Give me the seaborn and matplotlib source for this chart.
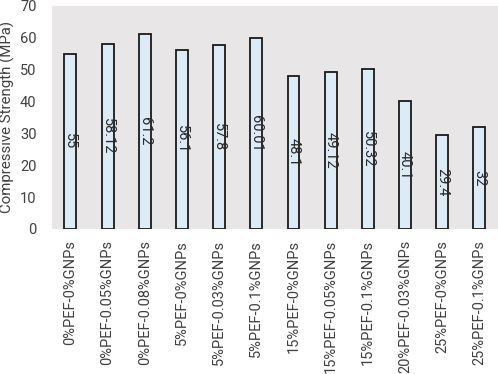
import matplotlib
matplotlib.use('Agg')
import matplotlib.pyplot as plt
import seaborn as sns
import pandas as pd

# 数据
categories = ['0%PEF-0%GNPs', '0%PEF-0.05%GNPs', '0%PEF-0.08%GNPs', '5%PEF-0%GNPs',
              '5%PEF-0.03%GNPs', '5%PEF-0.1%GNPs', '15%PEF-0%GNPs', '15%PEF-0.05%GNPs',
              '15%PEF-0.1%GNPs', '20%PEF-0.03%GNPs', '25%PEF-0%GNPs', '25%PEF-0.1%GNPs']
strength = [55, 58.12, 61.2, 56.1, 57.8, 60.01, 48.1, 49.12, 50.32, 40.1, 29.4, 32]
bar_labels = ['55', '58.12', '61.2', '56.1', '57.8', '60.01', '48.1', '49.12', '50.32',
              '40.1', '29.4', '32']

df = pd.DataFrame({'mix': categories, 'strength': strength})

sns.set_style('white')
plt.rcParams['font.family'] = ['Roboto', 'DejaVu Sans']
text_color = '#404040'

fig = plt.figure(figsize=(4.98, 3.74), dpi=100)
ax = fig.add_axes([0.104, 0.388, 0.896, 0.596])
ax.set_facecolor('#E8E6E6')

sns.barplot(data=df, x='mix', y='strength', color='#DDEBF7', edgecolor='#1a1a1a',
            linewidth=1.3, width=0.32, saturation=1, ax=ax)

# 柱内竖排数值标签
for i, (v, lab) in enumerate(zip(strength, bar_labels)):
    ax.text(i, v / 2, lab, rotation=270, ha='center', va='center',
            fontsize=10.5, color='#2a2a2a')

ax.set_ylim(0, 70)
ax.set_xlim(-0.5, 11.5)
ax.set_yticks(range(0, 71, 10))
ax.set_xlabel('')
ax.set_ylabel('Compressive Strength (MPa)', fontsize=10.8, color=text_color)
ax.yaxis.set_label_coords(-0.082, 0.5)
ax.tick_params(axis='y', labelsize=10.5, colors=text_color, length=0, pad=11)
ax.tick_params(axis='x', labelsize=10.5, colors=text_color, length=0, pad=8)
plt.setp(ax.get_xticklabels(), rotation=90)
for s in ax.spines.values():
    s.set_visible(False)

fig.savefig('out.png', dpi=100)
